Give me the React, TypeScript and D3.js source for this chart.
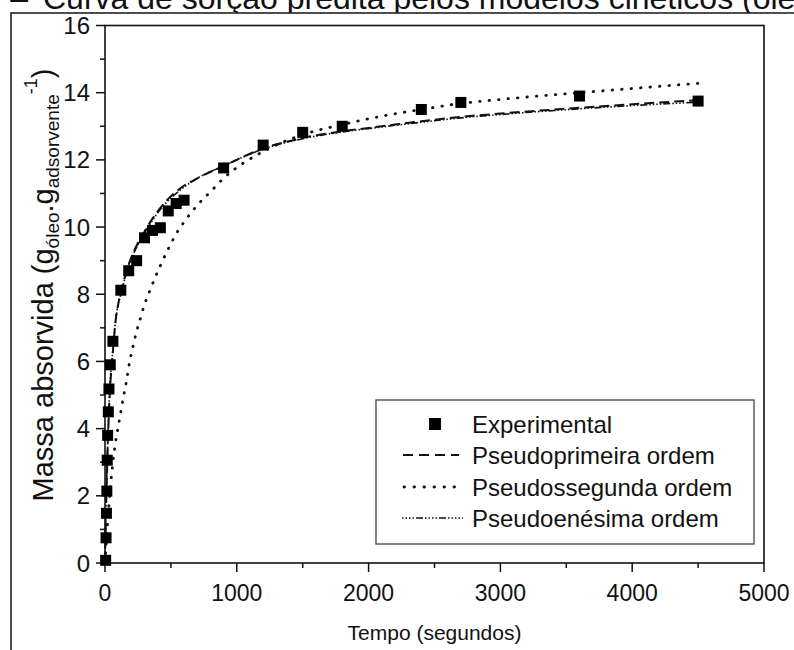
import React from "react";
import * as d3 from "d3";

const expTime = [5, 8, 11, 14, 17, 20, 25, 30, 40, 60, 120, 180, 240, 300, 360, 420, 480, 540, 600, 900, 1200, 1500, 1800, 2400, 2700, 3600, 4500];
const expMass = [0.08, 0.75, 1.48, 2.14, 3.06, 3.8, 4.5, 5.18, 5.9, 6.6, 8.12, 8.7, 9.0, 9.68, 9.9, 9.98, 10.48, 10.7, 10.8, 11.76, 12.44, 12.82, 13.0, 13.5, 13.71, 13.9, 13.75];

const modelTime = [0, 10, 20, 30, 40, 60, 80, 100, 120, 150, 190, 240, 290, 360, 470, 570, 700, 900, 1200, 1500, 1800, 2100, 2400, 2700, 3000, 3600, 4500];
const firstOrder = [0, 1.9, 3.4, 4.5, 5.3, 6.3, 7.2, 7.7, 8.05, 8.5, 9.0, 9.45, 9.8, 10.25, 10.8, 11.15, 11.45, 11.82, 12.34, 12.65, 12.85, 13.0, 13.15, 13.28, 13.38, 13.55, 13.78];
const nthOrder = [0, 2.0, 3.5, 4.6, 5.4, 6.35, 7.2, 7.7, 8.0, 8.45, 8.95, 9.4, 9.75, 10.2, 10.75, 11.1, 11.45, 11.82, 12.32, 12.63, 12.83, 12.98, 13.12, 13.25, 13.35, 13.52, 13.72];

const secondTime = [0, 20, 40, 60, 80, 100, 120, 140, 160, 185, 210, 240, 270, 300, 340, 380, 420, 480, 540, 600, 700, 800, 900, 1200, 1500, 1800, 2100, 2400, 2700, 3000, 3600, 4500];
const secondOrder = [0, 1.2, 2.2, 3.0, 3.6, 4.05, 4.5, 4.95, 5.35, 5.95, 6.4, 6.9, 7.3, 7.7, 8.1, 8.5, 8.85, 9.35, 9.8, 10.15, 10.65, 11.05, 11.45, 12.25, 12.75, 13.05, 13.3, 13.5, 13.68, 13.8, 14.0, 14.28];

const xTicks = [0, 1000, 2000, 3000, 4000, 5000];
const yTicks = [0, 2, 4, 6, 8, 10, 12, 14, 16];

const legendLabels = ["Experimental", "Pseudoprimeira ordem", "Pseudossegunda ordem", "Pseudoenésima ordem"];

const FONT = "Arial, 'Liberation Sans', sans-serif";

export default function App() {
  const W = 794, H = 650;
  const x = d3.scaleLinear().domain([0, 5000]).range([105, 764]);
  const y = d3.scaleLinear().domain([0, 16]).range([563, 25.5]);

  const line = d3.line<[number, number]>().x(d => x(d[0])).y(d => y(d[1])).curve(d3.curveMonotoneX);
  const foPath = line(modelTime.map((t, i) => [t, firstOrder[i]]))!;
  const noPath = line(modelTime.map((t, i) => [t, nthOrder[i]]))!;
  const soPath = line(secondTime.map((t, i) => [t, secondOrder[i]]))!;

  const xMinor = d3.range(500, 5000, 1000);
  const yMinor = d3.range(1, 16, 2);

  const sq = 11;
  const legRows = [424, 455, 487, 518];
  const nthDash = "1.5 2 1.5 2 1.5 2 1.5 2 7 2";

  return (
    <svg width={W} height={H} style={{ position: "absolute", left: 0, top: 0, background: "#fff", fontFamily: FONT }}>
      <rect x={0} y={0} width={W} height={H} fill="#fff" />
      {/* cut-off caption */}
      <text x={28} y={9} fontSize={32} textAnchor="end" fill="#111">Figura 1 –</text>
      <text x={43} y={9} fontSize={32} fill="#111">Curva de sorção predita pelos modelos cinéticos (óleo de soja)</text>
      {/* outer frame */}
      <rect x={11} y={13} width={W + 20} height={H + 20} fill="#fff" stroke="#222" strokeWidth={1.6} />

      {/* plot frame */}
      <rect x={x(0)} y={y(16)} width={x(5000) - x(0)} height={y(0) - y(16)} fill="none" stroke="#111" strokeWidth={1.6} />

      {/* x ticks */}
      {xTicks.map(t => (
        <g key={"xt" + t}>
          <line x1={x(t)} x2={x(t)} y1={y(0)} y2={y(0) + 9} stroke="#111" strokeWidth={1.5} />
          <text x={x(t)} y={593} fontSize={23} textAnchor="middle" dominantBaseline="central" fill="#111">{t}</text>
        </g>
      ))}
      {xMinor.map(t => (
        <line key={"xm" + t} x1={x(t)} x2={x(t)} y1={y(0)} y2={y(0) + 5} stroke="#111" strokeWidth={1.5} />
      ))}
      {/* y ticks */}
      {yTicks.map(v => (
        <g key={"yt" + v}>
          <line x1={x(0) - 9} x2={x(0)} y1={y(v)} y2={y(v)} stroke="#111" strokeWidth={1.5} />
          <text x={90} y={y(v)} fontSize={24} textAnchor="end" dominantBaseline="central" fill="#111">{v}</text>
        </g>
      ))}
      {yMinor.map(v => (
        <line key={"ym" + v} x1={x(0) - 5} x2={x(0)} y1={y(v)} y2={y(v)} stroke="#111" strokeWidth={1.5} />
      ))}

      {/* axis titles */}
      <text x={(x(0) + x(5000)) / 2} y={640} fontSize={21} textAnchor="middle" fill="#111">Tempo (segundos)</text>
      <text transform={`translate(53, 285) rotate(-90)`} fontSize={29} textAnchor="middle" fill="#111">
        Massa absorvida (g
        <tspan fontSize={19} dy={6}>óleo</tspan>
        <tspan dy={-6}>.g</tspan>
        <tspan fontSize={19} dy={6}>adsorvente</tspan>
        <tspan fontSize={18} dy={-22}>-1</tspan>
        <tspan dy={16}>)</tspan>
      </text>

      {/* curves */}
      <path d={soPath} fill="none" stroke="#111" strokeWidth={2.8} strokeDasharray="0.5 9" strokeLinecap="round" />
      <path d={foPath} fill="none" stroke="#111" strokeWidth={2} strokeDasharray="10 5" />
      <path d={noPath} fill="none" stroke="#111" strokeWidth={1.6} strokeDasharray={nthDash} />

      {/* experimental points */}
      {expTime.map((t, i) => (
        <rect key={"p" + i} x={x(t) - sq / 2} y={y(expMass[i]) - sq / 2} width={sq} height={sq} fill="#000" />
      ))}

      {/* legend */}
      <rect x={376} y={400} width={378} height={144} fill="#fff" stroke="#444" strokeWidth={1.3} />
      <rect x={429} y={legRows[0] - 6} width={12} height={12} fill="#000" />
      <line x1={403} x2={459} y1={legRows[1]} y2={legRows[1]} stroke="#111" strokeWidth={2.2} strokeDasharray="10 6" />
      <line x1={404} x2={458} y1={legRows[2]} y2={legRows[2]} stroke="#111" strokeWidth={2.8} strokeDasharray="0.5 9.5" strokeLinecap="round" />
      <line x1={402} x2={463} y1={legRows[3]} y2={legRows[3]} stroke="#111" strokeWidth={1.6} strokeDasharray={nthDash} />
      {legendLabels.map((l, i) => (
        <text key={l} x={472} y={legRows[i]} fontSize={24} dominantBaseline="central" fill="#111">{l}</text>
      ))}
    </svg>
  );
}
